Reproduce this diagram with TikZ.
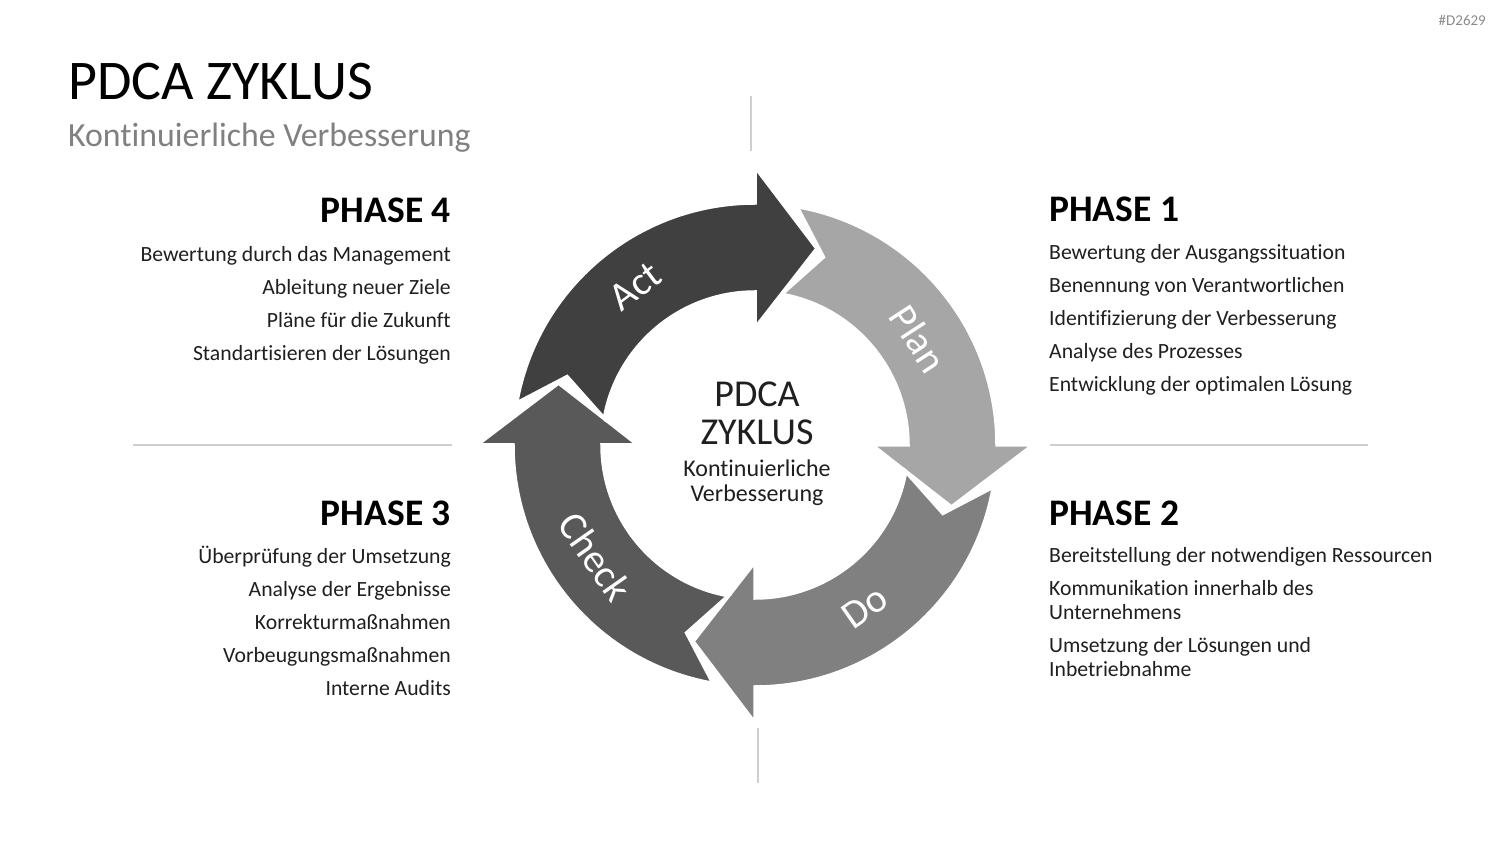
\documentclass[tikz,border=0pt]{standalone}
\usepackage{fontspec}
\setmainfont{Carlito}[Ligatures={NoCommon}]
\begin{document}
\begin{tikzpicture}[x=1pt,y=1pt,
  sep/.style={draw=black!19, line width=1.5},
  body/.style={inner sep=0pt, font=\fontsize{21.7}{25}\selectfont, text=black!88},
  headr/.style={inner sep=0pt, font=\fontsize{37.5}{42}\selectfont\bfseries, text=black},
  ringlabel/.style={text=white, font=\fontsize{40}{44}\selectfont, inner sep=0pt},
  ringarrow/.style={draw=white, line width=3.5, line join=miter}]
\useasboundingbox (0,0) rectangle (1500,844);
\fill[white] (0,0) rectangle (1500,844);

% tag
\node[anchor=base east, inner sep=0pt, text=black!45, font=\fontsize{15}{17}\selectfont] (tag) at (1486,818) {\#D2629};

% title
\node[anchor=base west, inner sep=0pt, font=\fontsize{56}{60}\selectfont] (title) at (68,744) {PDCA ZYKLUS};
\node[anchor=base west, inner sep=0pt, text=black!50, font=\fontsize{33.8}{38}\selectfont] (subtitle) at (68,697) {Kontinuierliche Verbesserung};

% separators
\coordinate (vt1) at (751,748); \coordinate (vt2) at (751,693);
\coordinate (vb1) at (758,116); \coordinate (vb2) at (758,61);
\coordinate (hl1) at (133,399); \coordinate (hl2) at (452,399);
\coordinate (hr1) at (1050,399); \coordinate (hr2) at (1368,399);
\draw[sep] (vt1) -- (vt2);
\draw[sep, line width=1.2] (vb1) -- (vb2);
\draw[sep] (hl1) -- (hl2);
\draw[sep] (hr1) -- (hr2);

% ring arrows
\newcommand{\pdcaarrow}[2]{%
  \filldraw[ringarrow, fill=#2]
    ({#1+80}:242) arc[start angle={#1+80}, end angle={#1}, radius=242pt]
    -- ({#1}:278) -- ({#1-17.5}:206) -- ({#1}:117) -- ({#1}:153)
    arc[start angle={#1}, end angle={#1+80}, radius=153pt]
    -- ({#1+70}:200) -- cycle;}
\begin{scope}[shift={(755,399)}]
  \pdcaarrow{0}{black!35}
  \pdcaarrow{-90}{black!50}
  \pdcaarrow{-180}{black!65}
  \pdcaarrow{90}{black!75}
  \node[ringlabel, rotate=37] (act) at (127:199) {Act};
  \node[ringlabel, rotate=-57] (plan) at (33:195) {Plan};
  \node[ringlabel, rotate=35] (do) at (-56:196) {Do};
  \node[ringlabel, rotate=-55] (check) at (215:195) {Check};
\end{scope}

% centre text
\node[anchor=base, inner sep=0pt, font=\fontsize{38}{40}\selectfont, text=black!88] (c1) at (757,437) {PDCA};
\node[anchor=base, inner sep=0pt, font=\fontsize{38}{40}\selectfont, text=black!88] (c2) at (757,399) {ZYKLUS};
\node[anchor=base, inner sep=0pt, font=\fontsize{24}{26}\selectfont, text=black!88] (c3) at (757,367) {Kontinuierliche};
\node[anchor=base, inner sep=0pt, font=\fontsize{24}{26}\selectfont, text=black!88] (c4) at (757,342) {Verbesserung};

% Phase 1
\node[headr, anchor=base west] (p1) at (1049,622) {PHASE 1};
\node[body, anchor=base west] (p1a) at (1049,584) {Bewertung der Ausgangssituation};
\node[body, anchor=base west] (p1b) at (1049,551) {Benennung von Verantwortlichen};
\node[body, anchor=base west] (p1c) at (1049,518) {Identifizierung der Verbesserung};
\node[body, anchor=base west] (p1d) at (1049,485) {Analyse des Prozesses};
\node[body, anchor=base west] (p1e) at (1049,452) {Entwicklung der optimalen Lösung};

% Phase 2
\node[headr, anchor=base west] (p2) at (1049,318) {PHASE 2};
\node[body, anchor=base west] (p2a) at (1049,281) {Bereitstellung der notwendigen Ressourcen};
\node[body, anchor=base west] (p2b) at (1049,248) {Kommunikation innerhalb des};
\node[body, anchor=base west] (p2c) at (1049,224) {Unternehmens};
\node[body, anchor=base west] (p2d) at (1049,191) {Umsetzung der Lösungen und};
\node[body, anchor=base west] (p2e) at (1049,167) {Inbetriebnahme};

% Phase 4
\node[headr, anchor=base east] (p4) at (451,621) {PHASE 4};
\node[body, anchor=base east] (p4a) at (451,582) {Bewertung durch das Management};
\node[body, anchor=base east] (p4b) at (451,549) {Ableitung neuer Ziele};
\node[body, anchor=base east] (p4c) at (451,516) {Pläne für die Zukunft};
\node[body, anchor=base east] (p4d) at (451,483) {Standartisieren der Lösungen};

% Phase 3
\node[headr, anchor=base east] (p3) at (451,318) {PHASE 3};
\node[body, anchor=base east] (p3a) at (451,280) {Überprüfung der Umsetzung};
\node[body, anchor=base east] (p3b) at (451,247) {Analyse der Ergebnisse};
\node[body, anchor=base east] (p3c) at (451,214) {Korrekturmaßnahmen};
\node[body, anchor=base east] (p3d) at (451,181) {Vorbeugungsmaßnahmen};
\node[body, anchor=base east] (p3e) at (451,148) {Interne Audits};
\end{tikzpicture}
\end{document}
